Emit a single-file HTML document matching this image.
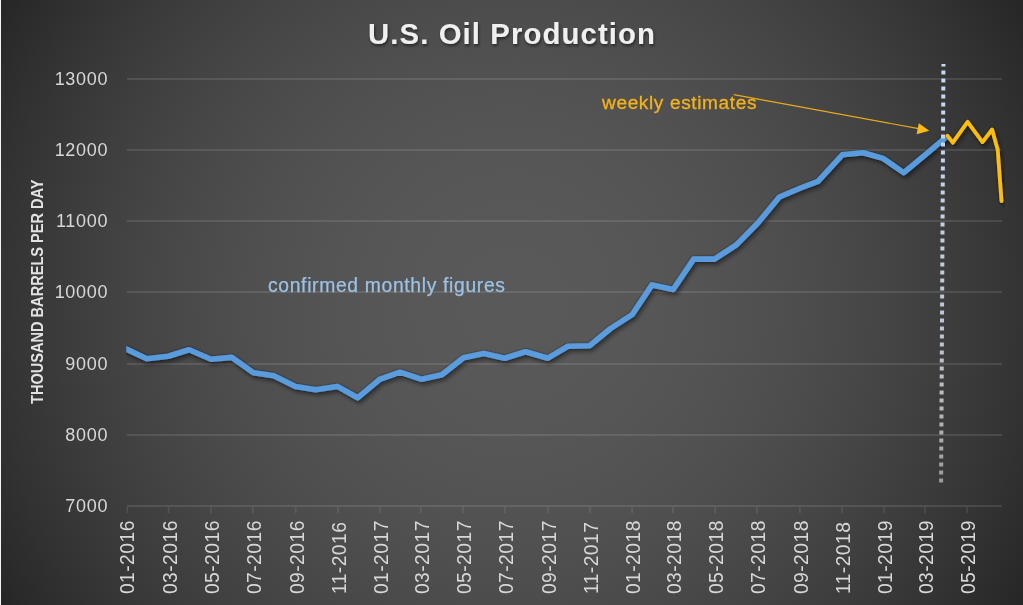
<!DOCTYPE html>
<html><head><meta charset="utf-8"><title>U.S. Oil Production</title>
<style>
html,body{margin:0;padding:0;background:#2b2b2b;}
body{width:1023px;height:605px;overflow:hidden;position:relative;font-family:"Liberation Sans",sans-serif;}
#bg{position:absolute;left:0;top:0;width:1023px;height:605px;
background:radial-gradient(circle 594px at 511.5px 302.5px,rgb(89.0,89.0,89.0) 0.00%,rgb(88.9,88.9,88.9) 4.17%,rgb(88.6,88.6,88.6) 8.33%,rgb(88.2,88.2,88.2) 12.50%,rgb(87.6,87.6,87.6) 16.67%,rgb(86.8,86.8,86.8) 20.83%,rgb(85.8,85.8,85.8) 25.00%,rgb(84.7,84.7,84.7) 29.17%,rgb(83.3,83.3,83.3) 33.33%,rgb(81.8,81.8,81.8) 37.50%,rgb(80.1,80.1,80.1) 41.67%,rgb(78.3,78.3,78.3) 45.83%,rgb(76.2,76.2,76.2) 50.00%,rgb(74.0,74.0,74.0) 54.17%,rgb(71.6,71.6,71.6) 58.33%,rgb(69.1,69.1,69.1) 62.50%,rgb(66.3,66.3,66.3) 66.67%,rgb(63.4,63.4,63.4) 70.83%,rgb(60.3,60.3,60.3) 75.00%,rgb(57.0,57.0,57.0) 79.17%,rgb(53.6,53.6,53.6) 83.33%,rgb(50.0,50.0,50.0) 87.50%,rgb(46.1,46.1,46.1) 91.67%,rgb(42.2,42.2,42.2) 95.83%,rgb(38.0,38.0,38.0) 100.00%);}
#edge{position:absolute;left:0;top:0;width:1px;height:605px;background:#f4f4f4;}
svg{position:absolute;left:0;top:0;}
text{font-family:"Liberation Sans",sans-serif;}
</style></head><body>
<div id="bg"></div><div id="edge"></div>
<svg width="1023" height="605" viewBox="0 0 1023 605">
<defs>
<filter id="sh" x="-5%" y="-20%" width="110%" height="150%"><feGaussianBlur in="SourceAlpha" stdDeviation="2" result="b1"/><feOffset in="b1" dx="1.5" dy="3" result="o1"/><feComponentTransfer in="o1" result="s1"><feFuncA type="linear" slope="0.45"/></feComponentTransfer><feGaussianBlur in="SourceAlpha" stdDeviation="0.9" result="b2"/><feOffset in="b2" dx="0.2" dy="0.4" result="o2"/><feComponentTransfer in="o2" result="s2"><feFuncA type="linear" slope="0.55"/></feComponentTransfer><feMerge><feMergeNode in="s1"/><feMergeNode in="s2"/><feMergeNode in="SourceGraphic"/></feMerge></filter>
<filter id="tsh" x="-5%" y="-30%" width="110%" height="180%"><feGaussianBlur in="SourceAlpha" stdDeviation="1.6"/><feOffset dx="1" dy="2"/><feComponentTransfer><feFuncA type="linear" slope="0.5"/></feComponentTransfer><feMerge><feMergeNode/><feMergeNode in="SourceGraphic"/></feMerge></filter>
<linearGradient id="dg" gradientUnits="userSpaceOnUse" x1="0" y1="64" x2="0" y2="483"><stop offset="0" stop-color="#c9dcf0"/><stop offset="0.5" stop-color="#c3cfde"/><stop offset="0.8" stop-color="#bdbec2"/><stop offset="1" stop-color="#9c9c9c"/></linearGradient>
<clipPath id="pc"><rect x="126.3" y="0" width="900" height="605"/></clipPath>
</defs>
<g opacity="0.995">

<g fill="#f2f2f2" opacity="0.115" shape-rendering="crispEdges">
<rect x="127" y="78" width="875" height="2"/>
<rect x="127" y="149" width="875" height="2"/>
<rect x="127" y="220" width="875" height="2"/>
<rect x="127" y="291" width="875" height="2"/>
<rect x="127" y="363" width="875" height="2"/>
<rect x="127" y="434" width="875" height="2"/>
<rect x="127" y="505" width="875" height="2"/>
</g>
<g fill="#f2f2f2" opacity="0.10">
<rect x="126.3" y="507" width="1.8" height="6.2"/>
<rect x="167.7" y="507" width="1.8" height="6.2"/>
<rect x="209.9" y="507" width="1.8" height="6.2"/>
<rect x="252.0" y="507" width="1.8" height="6.2"/>
<rect x="294.8" y="507" width="1.8" height="6.2"/>
<rect x="337.0" y="507" width="1.8" height="6.2"/>
<rect x="379.1" y="507" width="1.8" height="6.2"/>
<rect x="419.8" y="507" width="1.8" height="6.2"/>
<rect x="462.0" y="507" width="1.8" height="6.2"/>
<rect x="504.1" y="507" width="1.8" height="6.2"/>
<rect x="546.9" y="507" width="1.8" height="6.2"/>
<rect x="589.1" y="507" width="1.8" height="6.2"/>
<rect x="631.2" y="507" width="1.8" height="6.2"/>
<rect x="672.0" y="507" width="1.8" height="6.2"/>
<rect x="714.1" y="507" width="1.8" height="6.2"/>
<rect x="756.2" y="507" width="1.8" height="6.2"/>
<rect x="799.0" y="507" width="1.8" height="6.2"/>
<rect x="841.2" y="507" width="1.8" height="6.2"/>
<rect x="883.3" y="507" width="1.8" height="6.2"/>
<rect x="924.1" y="507" width="1.8" height="6.2"/>
<rect x="966.2" y="507" width="1.8" height="6.2"/>
</g>
<g fill="#d9d9d9" font-size="18" text-anchor="end" letter-spacing="0.7">
<text x="108.2" y="84.8">13000</text>
<text x="108.2" y="156.0">12000</text>
<text x="108.2" y="227.1">11000</text>
<text x="108.2" y="298.3">10000</text>
<text x="108.2" y="369.5">9000</text>
<text x="108.2" y="440.7">8000</text>
<text x="108.2" y="511.8">7000</text>
</g>
<g fill="#d9d9d9" font-size="19.3" letter-spacing="0.45">
<text transform="translate(134.3,594.1) rotate(-90)">01-2016</text>
<text transform="translate(176.8,594.1) rotate(-90)">03-2016</text>
<text transform="translate(219.0,594.1) rotate(-90)">05-2016</text>
<text transform="translate(261.1,594.1) rotate(-90)">07-2016</text>
<text transform="translate(303.9,594.1) rotate(-90)">09-2016</text>
<text transform="translate(346.1,594.1) rotate(-90)">11-2016</text>
<text transform="translate(388.2,594.1) rotate(-90)">01-2017</text>
<text transform="translate(428.9,594.1) rotate(-90)">03-2017</text>
<text transform="translate(471.1,594.1) rotate(-90)">05-2017</text>
<text transform="translate(513.2,594.1) rotate(-90)">07-2017</text>
<text transform="translate(556.0,594.1) rotate(-90)">09-2017</text>
<text transform="translate(598.2,594.1) rotate(-90)">11-2017</text>
<text transform="translate(640.3,594.1) rotate(-90)">01-2018</text>
<text transform="translate(681.1,594.1) rotate(-90)">03-2018</text>
<text transform="translate(723.2,594.1) rotate(-90)">05-2018</text>
<text transform="translate(765.3,594.1) rotate(-90)">07-2018</text>
<text transform="translate(808.1,594.1) rotate(-90)">09-2018</text>
<text transform="translate(850.3,594.1) rotate(-90)">11-2018</text>
<text transform="translate(892.4,594.1) rotate(-90)">01-2019</text>
<text transform="translate(933.2,594.1) rotate(-90)">03-2019</text>
<text transform="translate(975.3,594.1) rotate(-90)">05-2019</text>
</g>
<text transform="translate(43.1,404) rotate(-90)" fill="#e4e4e4" font-size="15.8" font-weight="bold" textLength="224.5" lengthAdjust="spacingAndGlyphs">THOUSAND BARRELS PER DAY</text>
<text x="368" y="44" fill="#f2f2f2" font-size="29.3" font-weight="bold" filter="url(#tsh)" textLength="287" lengthAdjust="spacing">U.S. Oil Production</text>
<text x="602" y="108.9" fill="#f5b51b" stroke="#f5b51b" stroke-width="0.3" font-size="19.1" textLength="154.5" lengthAdjust="spacing">weekly estimates</text>
<text x="268" y="291.7" fill="#9dc3e6" stroke="#9dc3e6" stroke-width="0.25" font-size="19.3" textLength="237" lengthAdjust="spacing">confirmed monthly figures</text>
<line x1="733.7" y1="94.6" x2="920" y2="128.9" stroke="#e9ad1c" stroke-width="1.1"/>
<polygon points="929.3,130.7 916.6,134.3 918.8,123.3" fill="#fcbc1c"/>
<g clip-path="url(#pc)">
<polyline points="122.4,347.2 126.4,349.1 146.7,358.7 168.3,356.2 189.1,349.8 211.0,359.2 231.8,357.4 253.4,372.7 273.7,375.7 295.4,386.4 315.7,389.7 337.3,386.4 357.6,397.8 379.7,379.3 400.0,372.2 421.6,379.3 441.9,374.7 463.5,357.7 483.8,353.4 504.7,358.2 525.5,351.8 547.9,358.2 568.2,346.2 589.8,345.7 610.6,328.5 632.3,314.5 652.0,284.9 673.2,289.5 693.7,259.1 714.5,259.1 736.0,245.2 757.9,223.0 779.4,197.0 800.6,188.0 818.0,181.4 842.3,154.8 863.2,152.8 883.0,158.4 903.8,172.7 924.6,155.4 946.2,137.2" fill="none" stroke="#5a9ddf" stroke-width="5.6" stroke-linejoin="round" stroke-linecap="butt" filter="url(#sh)"/></g>
<polyline points="947.4,135.7 952.8,142.7 967.6,121.8 982.5,142.1 992.1,129.5 997.7,149.7 1001.5,201.2" fill="none" stroke="#fec010" stroke-width="3.8" stroke-linejoin="round" stroke-linecap="round" filter="url(#sh)"/>
<line x1="943.45" y1="64" x2="941.1" y2="483" stroke="url(#dg)" stroke-width="4" stroke-dasharray="4 4" stroke-dashoffset="1.4"/>
</g></svg></body></html>
